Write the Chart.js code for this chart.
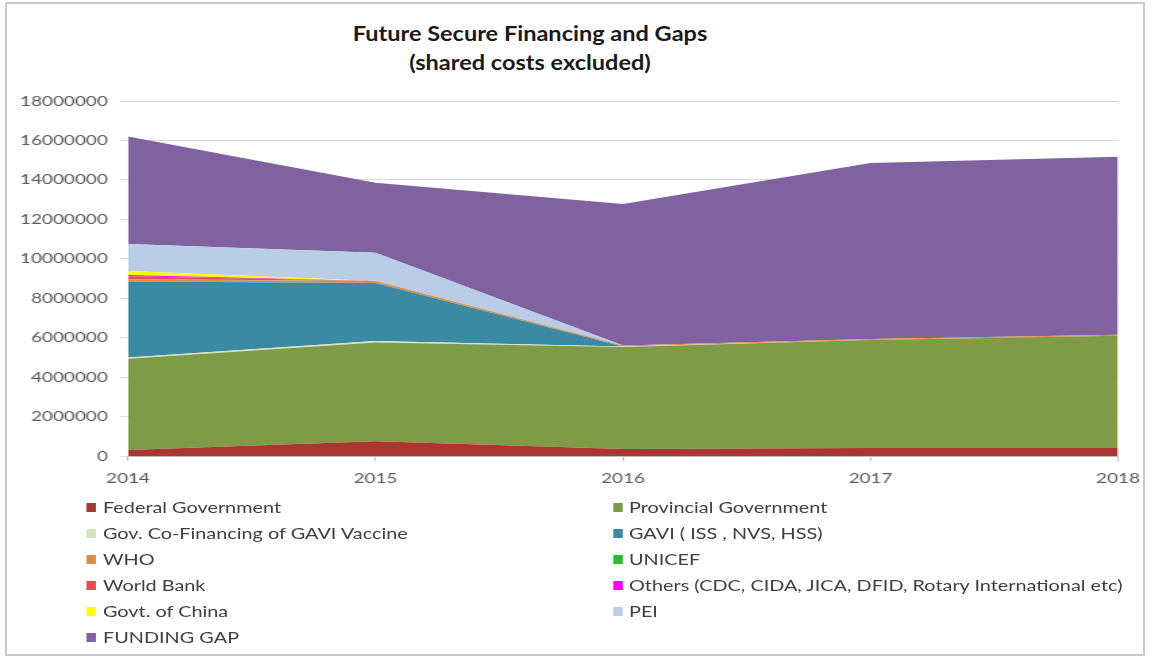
<!DOCTYPE html>
<html>
<head>
<meta charset="utf-8">
<script src="https://cdn.jsdelivr.net/npm/chart.js@4/dist/chart.umd.min.js"></script>
<style>
  html, body { margin: 0; padding: 0; background: #fff; }
  body { width: 1151px; height: 662px; position: relative; overflow: hidden; font-family: Lato, "Open Sans", sans-serif; }
  #frame { position: absolute; left: 5px; top: 2px; width: 1140px; height: 654px; border: 2px solid #c9c9c9; box-sizing: border-box; }
  #title { position: absolute; left: 280px; width: 500px; top: 18px; text-align: center; font-weight: bold; font-size: 21px; line-height: 29px; color: #1a1a1a; transform: scaleX(1.12); transform-origin: 250px 0; }
  #wrap { position: absolute; left: 0; top: 0; width: 852px; height: 662px; transform-origin: 0 0; }
  #chartBox { position: absolute; left: 0; top: 0; width: 852px; height: 490px; }
  #legend { position: absolute; left: 0; top: 0; width: 852px; height: 662px; }
  .li { position: absolute; font-size: 14.7px; color: #404040; white-space: nowrap; line-height: 18px; }
  .mk { position: absolute; width: 6.7px; height: 9px; }
</style>
</head>
<body>
<div id="frame"></div>
<div id="title">Future Secure Financing and Gaps<br>(shared costs excluded)</div>
<div id="wrap">
  <div id="chartBox"><canvas id="c"></canvas></div>
  <div id="legend"></div>
</div>
<script>
// ---- data ----
const years = ['2014', '2015', '2016', '2017', '2018'];
const yTicks = [0, 2000000, 4000000, 6000000, 8000000, 10000000, 12000000, 14000000, 16000000, 18000000];

const federalGov    = [300000, 750000, 350000, 400000, 400000];
const provincialGov = [4630000, 5000000, 5180000, 5480000, 5700000];
const govCoFinGavi  = [70000, 80000, 20000, 0, 0];
const gavi          = [3850000, 2940000, 0, 0, 0];
const who           = [100000, 100000, 50000, 50000, 50000];
const unicef        = [20000, 0, 0, 0, 0];
const worldBank     = [150000, 0, 0, 0, 0];
const others        = [60000, 0, 0, 0, 0];
const govtChina     = [200000, 0, 0, 0, 0];
const pei           = [1370000, 1430000, 0, 0, 0];
const fundingGap    = [5450000, 3550000, 7180000, 8930000, 9020000];

const seriesNames = ['Federal Government', 'Provincial Government', 'Gov. Co-Financing of GAVI Vaccine',
  'GAVI ( ISS , NVS, HSS)', 'WHO', 'UNICEF', 'World Bank',
  'Others (CDC, CIDA, JICA, DFID, Rotary International etc)', 'Govt. of China', 'PEI', 'FUNDING GAP'];
const seriesValues = [federalGov, provincialGov, govCoFinGavi, gavi, who, unicef, worldBank, others, govtChina, pei, fundingGap];
const seriesColors = ['#A93631', '#7F9B47', '#D3E3C0', '#3A8AA3', '#DD8E40', '#22C02E', '#E0504F',
  '#FF00FF', '#FFFF00', '#BACDE6', '#8062A1'];

// ---- layout constants ----
const S = 1151 / 852;             // horizontal stretch
document.getElementById('wrap').style.transform = 'scaleX(' + S + ')';
const plotLeft = 128 / S, plotRight = 1118 / S;

const datasets = seriesNames.map((n, i) => ({
  label: n,
  data: seriesValues[i],
  backgroundColor: seriesColors[i],
  borderColor: seriesColors[i],
  borderWidth: 0,
  pointRadius: 0,
  pointHoverRadius: 0,
  tension: 0,
  fill: i === 0 ? 'origin' : '-1'
}));

new Chart(document.getElementById('c'), {
  type: 'line',
  data: { labels: years, datasets },
  options: {
    responsive: true,
    maintainAspectRatio: false,
    animation: false,
    events: [],
    layout: { padding: { top: 101, right: 852 - plotRight, left: 0, bottom: 0 } },
    plugins: { legend: { display: false }, tooltip: { enabled: false }, title: { display: false } },
    scales: {
      x: {
        type: 'category',
        offset: false,
        grid: { drawOnChartArea: false, drawTicks: true, tickLength: 5, color: '#bfbfbf' },
        border: { color: '#bfbfbf', width: 1 },
        ticks: { font: { family: 'Lato', size: 14, lineHeight: 1.5 }, color: '#595959', padding: 7, maxRotation: 0, autoSkip: false },
        afterFit: s => { s.height = 34; }
      },
      y: {
        stacked: true,
        min: 0,
        max: 18000000,
        afterBuildTicks: s => { s.ticks = yTicks.map(v => ({ value: v })); },
        grid: { color: '#d9d9d9', tickLength: 6, drawTicks: true },
        border: { display: false },
        ticks: { font: { family: 'Lato', size: 14 }, color: '#595959', padding: 9, callback: v => String(v) },
        afterFit: s => { s.width = plotLeft; }
      }
    }
  }
});

// ---- HTML legend (two columns, row-major) ----
const lg = document.getElementById('legend');
const rowY = [507, 533, 559, 585, 611, 637];
seriesNames.forEach((n, i) => {
  const col = i % 2, row = Math.floor(i / 2);
  const mx = col === 0 ? 87 / S : 614 / S;
  const tx = col === 0 ? 103 / S : 629 / S;
  const mk = document.createElement('div');
  mk.className = 'mk';
  mk.style.left = mx + 'px';
  mk.style.top = (rowY[row] - 4.5) + 'px';
  mk.style.background = seriesColors[i];
  lg.appendChild(mk);
  const t = document.createElement('div');
  t.className = 'li';
  t.style.left = tx + 'px';
  t.style.top = (rowY[row] - 9) + 'px';
  t.textContent = n;
  lg.appendChild(t);
});
</script>
</body>
</html>
